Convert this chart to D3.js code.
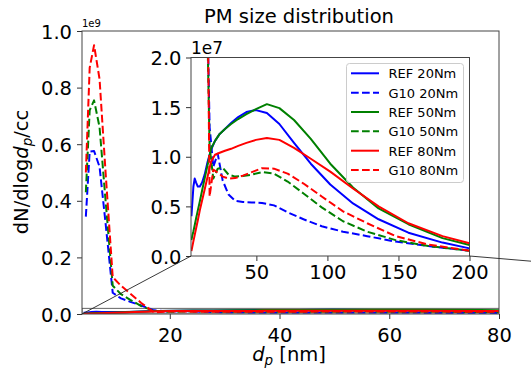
<!DOCTYPE html>
<html>
<head>
<meta charset="utf-8">
<script src="https://cdn.jsdelivr.net/npm/d3@7"></script>
<style>
  html, body { margin: 0; padding: 0; background: #fff; }
  svg { display: block; font-family: "DejaVu Sans", sans-serif; }
</style>
</head>
<body>
<svg id="chart" width="531" height="372"></svg>
<script>
// Particle diameters (nm) of the two instruments
const refDiameters = [4.3, 5.0, 5.7, 6.6, 7.6, 8.8, 10.2, 11.8, 13.6, 15.7, 18.1, 20.9, 24.2, 27.9,
  32.2, 37.2, 43.0, 49.7, 57.4, 66.2, 76.5, 88.3, 102, 118, 136, 157, 181, 200];
const g10Diameters = [4.7, 5.4, 6.2, 7.2, 8.3, 9.6, 11.1, 12.8, 14.8, 17.1, 19.7, 22.8, 26.3,
  30.4, 35.1, 40.5, 46.8, 54.0, 62.4, 72.0, 83.2, 96.0, 111, 128, 148, 171, 200];

// dN/dlogdp (#/cc)
const ref20 = [0.40e7, 0.55e7, 0.70e7, 0.78e7, 0.74e7, 0.70e7, 0.70e7, 0.74e7, 0.82e7, 0.95e7,
  1.07e7, 1.16e7, 1.23e7, 1.28e7, 1.34e7, 1.40e7, 1.45e7, 1.47e7, 1.44e7, 1.33e7, 1.14e7,
  0.93e7, 0.72e7, 0.53e7, 0.37e7, 0.235e7, 0.135e7, 0.077e7];
const g1020 = [3.44e8, 5.74e8, 5.76e8, 5.2e8, 3.2e8, 7.5e7, 5.5e7, 4.3e7, 3.0e7, 1.3e7,
  0.9e7, 1.03e7, 0.76e7, 0.62e7, 0.555e7, 0.545e7, 0.54e7, 0.535e7, 0.51e7, 0.44e7, 0.37e7,
  0.30e7, 0.245e7, 0.20e7, 0.145e7, 0.10e7, 0.053e7];
const ref50 = [0.16e7, 0.21e7, 0.25e7, 0.31e7, 0.38e7, 0.46e7, 0.55e7, 0.66e7, 0.78e7, 0.92e7,
  1.08e7, 1.16e7, 1.23e7, 1.28e7, 1.33e7, 1.38e7, 1.43e7, 1.48e7, 1.53e7, 1.49e7, 1.37e7,
  1.18e7, 0.93e7, 0.69e7, 0.48e7, 0.32e7, 0.18e7, 0.11e7];
const g1050 = [4.3e8, 7.2e8, 7.55e8, 6.6e8, 4.0e8, 1.0e8, 7.0e7, 5.0e7, 2.8e7, 1.1e7,
  0.78e7, 0.88e7, 0.89e7, 0.82e7, 0.80e7, 0.805e7, 0.82e7, 0.845e7, 0.83e7, 0.75e7, 0.63e7,
  0.49e7, 0.35e7, 0.245e7, 0.16e7, 0.10e7, 0.053e7];
const ref80 = [0.05e7, 0.10e7, 0.15e7, 0.21e7, 0.28e7, 0.36e7, 0.46e7, 0.56e7, 0.67e7, 0.80e7,
  0.95e7, 1.02e7, 1.04e7, 1.06e7, 1.08e7, 1.11e7, 1.14e7, 1.17e7, 1.19e7, 1.17e7, 1.09e7,
  0.98e7, 0.85e7, 0.68e7, 0.50e7, 0.33e7, 0.20e7, 0.128e7];
const g1080 = [5.0e8, 8.7e8, 9.5e8, 8.3e8, 5.0e8, 1.3e8, 1.0e8, 7.2e7, 3.9e7, 0.6e7,
  0.87e7, 0.84e7, 0.80e7, 0.78e7, 0.785e7, 0.81e7, 0.845e7, 0.885e7, 0.88e7, 0.83e7, 0.73e7,
  0.60e7, 0.45e7, 0.33e7, 0.20e7, 0.115e7, 0.053e7];

const seriesNames = ["REF 20Nm", "G10 20Nm", "REF 50Nm", "G10 50Nm", "REF 80Nm", "G10 80Nm"];
const seriesX = [refDiameters, g10Diameters, refDiameters, g10Diameters, refDiameters, g10Diameters];
const seriesY = [ref20, g1020, ref50, g1050, ref80, g1080];

const mainXTicks = [20, 40, 60, 80];
const mainYTicks = [0, 0.2e9, 0.4e9, 0.6e9, 0.8e9, 1.0e9];
const insetXTicks = [50, 100, 150, 200];
const insetYTicks = [0, 0.5e7, 1.0e7, 1.5e7, 2.0e7];

// styling
const colors = ["#0000ff", "#0000ff", "#008000", "#008000", "#ff0000", "#ff0000"];
const dashed = [false, true, false, true, false, true];
const DASH = "7.7,3.3";
const FS = 19.5;

const series = seriesNames.map((name, i) => ({
  name, color: colors[i], dashed: dashed[i],
  points: seriesX[i].map((d, j) => [d, seriesY[i][j]])
}));

const svg = d3.select("#chart");
svg.append("rect").attr("width", 531).attr("height", 372).attr("fill", "#fff");

// ---------- main axes ----------
const x = d3.scaleLinear().domain([4, 80]).range([82, 499]);
const y = d3.scaleLinear().domain([0, 1e9]).range([314, 31]);

const defs = svg.append("defs");
defs.append("clipPath").attr("id", "clipMain").append("rect")
  .attr("x", 82).attr("y", 31).attr("width", 417).attr("height", 283);

const mainG = svg.append("g");
const mainPlot = mainG.append("g").attr("clip-path", "url(#clipMain)");

// zoom region outline (x 4–200, y 0–2e7)
mainPlot.append("rect")
  .attr("x", x(4)).attr("y", y(2e7))
  .attr("width", x(200) - x(4)).attr("height", y(0) - y(2e7))
  .attr("fill", "none").attr("stroke", "#555").attr("stroke-width", 0.9);

const lineMain = d3.line().x(d => x(d[0])).y(d => y(d[1]));
series.forEach(s => {
  mainPlot.append("path").datum(s.points)
    .attr("d", lineMain).attr("fill", "none")
    .attr("stroke", s.color).attr("stroke-width", 2)
    .attr("stroke-dasharray", s.dashed ? DASH : null)
    .attr("stroke-linejoin", "round");
});

const xAxisMain = mainG.append("g").attr("transform", "translate(0,314)")
  .call(d3.axisBottom(x).tickValues(mainXTicks).tickSize(5).tickPadding(8.8).tickFormat(d3.format("d")));
const yAxisMain = mainG.append("g").attr("transform", "translate(82,0)")
  .call(d3.axisLeft(y).tickValues(mainYTicks).tickSize(5).tickPadding(5).tickFormat(v => d3.format(".1f")(v / 1e9)));
[xAxisMain, yAxisMain].forEach(a => {
  a.select(".domain").remove();
  a.selectAll("text").attr("font-size", FS).attr("font-family", "DejaVu Sans").attr("fill", "#000");
  a.selectAll("line").attr("stroke", "#333");
});
yAxisMain.selectAll("text").attr("dy", "0.36em");

mainG.append("rect").attr("x", 82).attr("y", 31).attr("width", 417).attr("height", 283)
  .attr("fill", "none").attr("stroke", "#444").attr("stroke-width", 1);

mainG.append("text").attr("x", 82).attr("y", 27).attr("font-size", 10).text("1e9");

// title and labels
svg.append("text").attr("x", 299).attr("y", 23.3).attr("text-anchor", "middle")
  .attr("font-size", FS).text("PM size distribution");

const xl = svg.append("text").attr("x", 289).attr("y", 360.5).attr("text-anchor", "middle")
  .attr("font-size", FS);
xl.append("tspan").attr("font-style", "italic").text("d");
xl.append("tspan").attr("font-style", "italic").attr("font-size", 13.5).attr("dy", 4).text("p");
xl.append("tspan").attr("dy", -4).text(" [nm]");

const yl = svg.append("text").attr("transform", "translate(28,172) rotate(-90)")
  .attr("text-anchor", "middle").attr("font-size", FS);
yl.append("tspan").text("dN/dlog");
yl.append("tspan").attr("font-style", "italic").text("d");
yl.append("tspan").attr("font-style", "italic").attr("font-size", 13.5).attr("dy", 4).text("p");
yl.append("tspan").attr("dy", -4).text("/cc");

// ---------- inset axes ----------
const xi = d3.scaleLinear().domain([4, 200]).range([191, 469.5]);
const yi = d3.scaleLinear().domain([0, 2e7]).range([256, 57.5]);

defs.append("clipPath").attr("id", "clipInset").append("rect")
  .attr("x", 191).attr("y", 57.5).attr("width", 278.5).attr("height", 198.5);

const insetG = svg.append("g");
insetG.append("rect").attr("x", 191).attr("y", 57.5).attr("width", 278.5).attr("height", 198.5)
  .attr("fill", "#fff");

const insetPlot = insetG.append("g").attr("clip-path", "url(#clipInset)");
const lineInset = d3.line().x(d => xi(d[0])).y(d => yi(d[1]));
series.forEach(s => {
  insetPlot.append("path").datum(s.points)
    .attr("d", lineInset).attr("fill", "none")
    .attr("stroke", s.color).attr("stroke-width", 2)
    .attr("stroke-dasharray", s.dashed ? DASH : null)
    .attr("stroke-linejoin", "round");
});

const xAxisIn = insetG.append("g").attr("transform", "translate(0,256)")
  .call(d3.axisBottom(xi).tickValues(insetXTicks).tickSize(5).tickPadding(4.4).tickFormat(d3.format("d")));
const yAxisIn = insetG.append("g").attr("transform", "translate(191,0)")
  .call(d3.axisLeft(yi).tickValues(insetYTicks).tickSize(5).tickPadding(4.5).tickFormat(v => d3.format(".1f")(v / 1e7)));
[xAxisIn, yAxisIn].forEach(a => {
  a.select(".domain").remove();
  a.selectAll("text").attr("font-size", FS).attr("font-family", "DejaVu Sans").attr("fill", "#000");
  a.selectAll("line").attr("stroke", "#333");
});
yAxisIn.selectAll("text").attr("dy", "0.36em");

insetG.append("rect").attr("x", 191).attr("y", 57.5).attr("width", 278.5).attr("height", 198.5)
  .attr("fill", "none").attr("stroke", "#444").attr("stroke-width", 1);

insetG.append("text").attr("x", 191).attr("y", 54).attr("font-size", 17).text("1e7");

// connectors from the zoom region to the inset corners
[[4, 4], [200, 200]].forEach(([a, b]) => {
  svg.append("line")
    .attr("x1", x(a)).attr("y1", y(0))
    .attr("x2", xi(b)).attr("y2", yi(0))
    .attr("stroke", "#222").attr("stroke-width", 0.9);
});

// legend
const lg = insetG.append("g");
lg.append("rect").attr("x", 346.5).attr("y", 63.5).attr("width", 117).attr("height", 119)
  .attr("rx", 3).attr("fill", "#fff").attr("fill-opacity", 0.8)
  .attr("stroke", "#ccc").attr("stroke-width", 1);
series.forEach((s, i) => {
  const cy = 73.3 + i * 19.35;
  lg.append("line").attr("x1", 351).attr("x2", 379).attr("y1", cy).attr("y2", cy)
    .attr("stroke", s.color).attr("stroke-width", 2)
    .attr("stroke-dasharray", s.dashed ? DASH : null);
  lg.append("text").attr("x", 388.5).attr("y", cy + 5).attr("font-size", 13).text(s.name);
});
</script>
</body>
</html>
